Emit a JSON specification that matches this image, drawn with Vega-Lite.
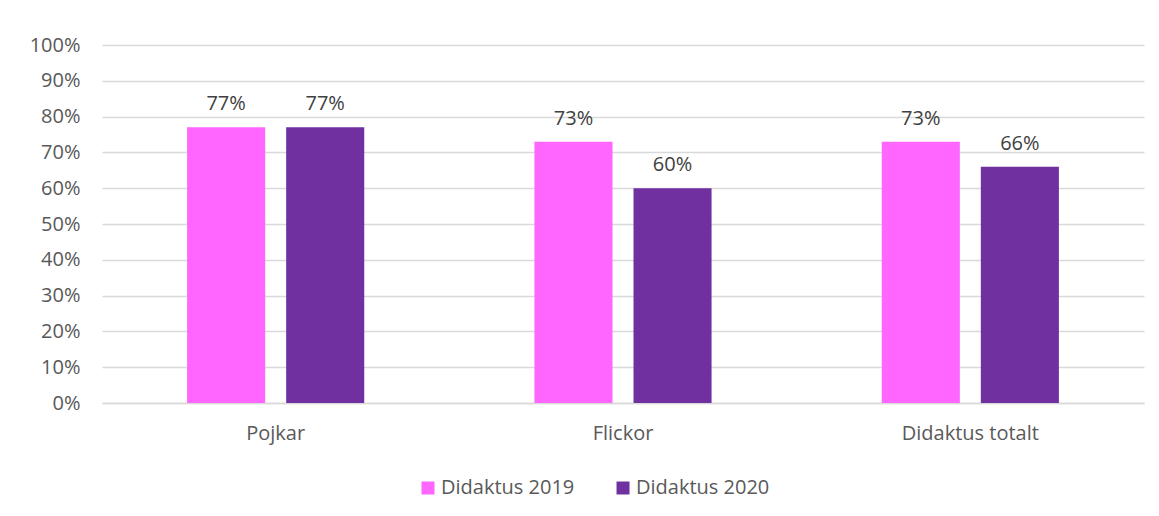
{
  "$schema": "https://vega.github.io/schema/vega-lite/v6.json",
  "width": 1042,
  "height": 358,
  "autosize": {"type": "none"},
  "padding": {"left": 102, "top": 45, "right": 15, "bottom": 113},
  "background": "white",
  "data": {
    "values": [
      {"group": "Pojkar", "series": "Didaktus 2019", "value": 0.77},
      {"group": "Pojkar", "series": "Didaktus 2020", "value": 0.77},
      {"group": "Flickor", "series": "Didaktus 2019", "value": 0.73},
      {"group": "Flickor", "series": "Didaktus 2020", "value": 0.60},
      {"group": "Didaktus totalt", "series": "Didaktus 2019", "value": 0.73},
      {"group": "Didaktus totalt", "series": "Didaktus 2020", "value": 0.66}
    ]
  },
  "encoding": {
    "x": {
      "field": "group", "type": "nominal", "sort": null,
      "scale": {"paddingInner": 0, "paddingOuter": 0},
      "axis": {"title": null, "labelAngle": 0, "ticks": false, "domainColor": "#d9d9d9", "domainWidth": 1.5, "labelFont": "Open Sans", "labelFontSize": 20, "labelColor": "#595959", "labelPadding": 20}
    },
    "xOffset": {"field": "series", "type": "nominal", "scale": {"paddingInner": 0.212, "paddingOuter": 0.859}},
    "y": {
      "field": "value", "type": "quantitative",
      "scale": {"domain": [0, 1]},
      "axis": {"title": null, "format": ".0%", "values": [0,0.1,0.2,0.3,0.4,0.5,0.6,0.7,0.8,0.9,1], "labelOverlap": false, "domain": false, "ticks": false, "gridColor": "#d9d9d9", "gridWidth": 1.5, "labelFont": "Open Sans", "labelFontSize": 20, "labelColor": "#595959", "labelPadding": 22}
    }
  },
  "layer": [
    {
      "mark": {"type": "bar"},
      "encoding": {
        "color": {
          "field": "series", "type": "nominal",
          "scale": {"domain": ["Didaktus 2019", "Didaktus 2020"], "range": ["#FF66FF", "#7030A0"]},
          "legend": {"title": null, "orient": "none", "direction": "horizontal", "legendX": 316, "legendY": 433, "symbolType": "square", "symbolSize": 169, "symbolStrokeWidth": 0, "labelFont": "Open Sans", "labelFontSize": 20, "labelColor": "#595959", "labelOffset": 3, "columnPadding": 38}
        }
      }
    },
    {
      "mark": {"type": "text", "baseline": "alphabetic", "dy": -17, "font": "Open Sans", "fontSize": 20, "color": "#404040"},
      "encoding": {"text": {"field": "value", "type": "quantitative", "format": ".0%"}}
    }
  ],
  "config": {"view": {"stroke": null}}
}
